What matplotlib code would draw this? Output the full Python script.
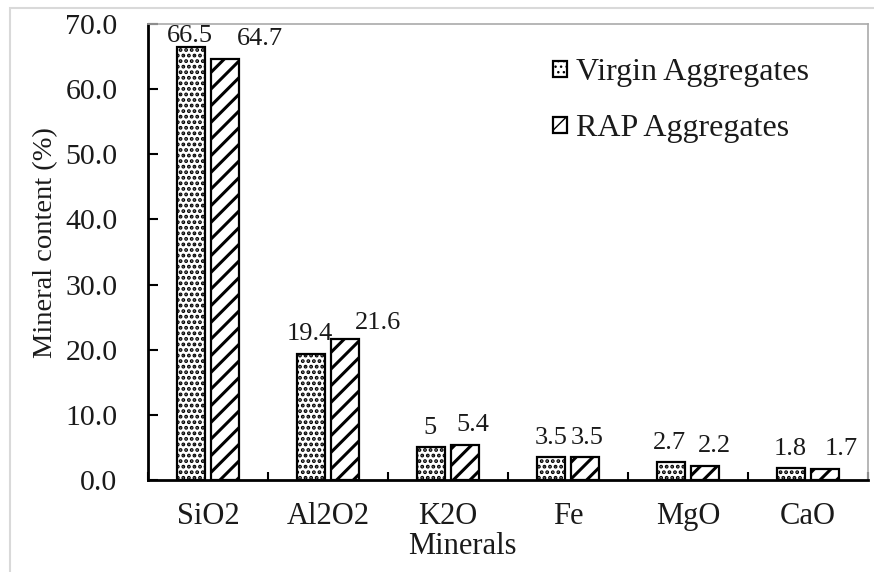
import numpy as np
import matplotlib
matplotlib.use('Agg')
import matplotlib.pyplot as plt
from matplotlib.patches import Rectangle

# data
minerals = ['SiO2', 'Al2O2', 'K2O', 'Fe', 'MgO', 'CaO']
virgin = [66.5, 19.4, 5.0, 3.5, 2.7, 1.8]
rap = [64.7, 21.6, 5.4, 3.5, 2.2, 1.7]
virgin_labels = ['66.5', '19.4', '5', '3.5', '2.7', '1.8']
rap_labels = ['64.7', '21.6', '5.4', '3.5', '2.2', '1.7']

# label nudges (points), as placed in the original
virgin_dx = [-1, -1, -1, 0, -1, -1]
virgin_dy = [8, 14, 14, 14, 14, 14]
rap_dx = [25, 24, 6, 2, 7, 12]
rap_dy = [14, 12, 14, 14, 14, 14]

plt.rcParams['font.family'] = 'Liberation Serif'
txt = '#1a1a1a'

fig = plt.figure(figsize=(8.74, 5.72), dpi=100)
ax = fig.add_axes([148/874, 92/572, 720/874, 456/572])

# outer chart border
fig.patches.append(Rectangle((10/874, -0.1), 1.0, (564/572) + 0.1,
                             transform=fig.transFigure, fill=False,
                             edgecolor='#d9d9d9', linewidth=1.5))

x = np.arange(len(minerals))
w = 0.233
off = 0.14

with plt.rc_context({'hatch.linewidth': 1.9}):
    b1 = ax.bar(x - off, virgin, w, color='white', edgecolor='black',
                linewidth=1.6, hatch='...', label='Virgin Aggregates')
with plt.rc_context({'hatch.linewidth': 2.2}):
    b2 = ax.bar(x + off, rap, w, color='white', edgecolor='black',
                linewidth=1.6, hatch='//', label='RAP Aggregates')

for i in range(len(minerals)):
    ax.annotate(virgin_labels[i], (x[i] - off, virgin[i]),
                xytext=(virgin_dx[i], virgin_dy[i]), textcoords='offset points',
                ha='center', va='center', fontsize=19, color=txt)
    ax.annotate(rap_labels[i], (x[i] + off, rap[i]),
                xytext=(rap_dx[i], rap_dy[i]), textcoords='offset points',
                ha='center', va='center', fontsize=19, color=txt)

ax.set_xlim(-0.5, len(minerals) - 0.5)
ax.set_ylim(0, 70)
ax.set_yticks(np.arange(0, 71, 10))
ax.set_yticklabels([f'{v:.1f}' for v in np.arange(0, 71, 10)])
ax.set_xticks(x)
ax.set_xticklabels(minerals)
ax.set_xticks(np.arange(-0.5, len(minerals), 1), minor=True)

ax.tick_params(axis='y', direction='in', length=7, width=1.5, pad=22,
               labelsize=21.5, labelcolor=txt)
ax.tick_params(axis='x', which='major', length=0, pad=16,
               labelsize=22, labelcolor=txt)
ax.tick_params(axis='x', which='minor', direction='in', length=6, width=1.5)

for s in ['left', 'bottom']:
    ax.spines[s].set_linewidth(2)
    ax.spines[s].set_color('black')
for s in ['top', 'right']:
    ax.spines[s].set_linewidth(1.2)
    ax.spines[s].set_color('#aaaaaa')

ax.set_ylabel('Mineral content (%)', fontsize=20.5, color=txt)
ax.yaxis.set_label_coords(-0.125, 0.52)
ax.set_xlabel('Minerals', fontsize=22, color=txt)
ax.xaxis.set_label_coords(0.436, -0.115)

ax.legend(loc='upper left', bbox_to_anchor=(0.563, 0.925), frameon=False,
          fontsize=23, handlelength=0.42, handleheight=0.42,
          handletextpad=0.3, labelspacing=0.85, borderpad=0,
          borderaxespad=0, labelcolor=txt)

fig.savefig('out.png', dpi=100)
